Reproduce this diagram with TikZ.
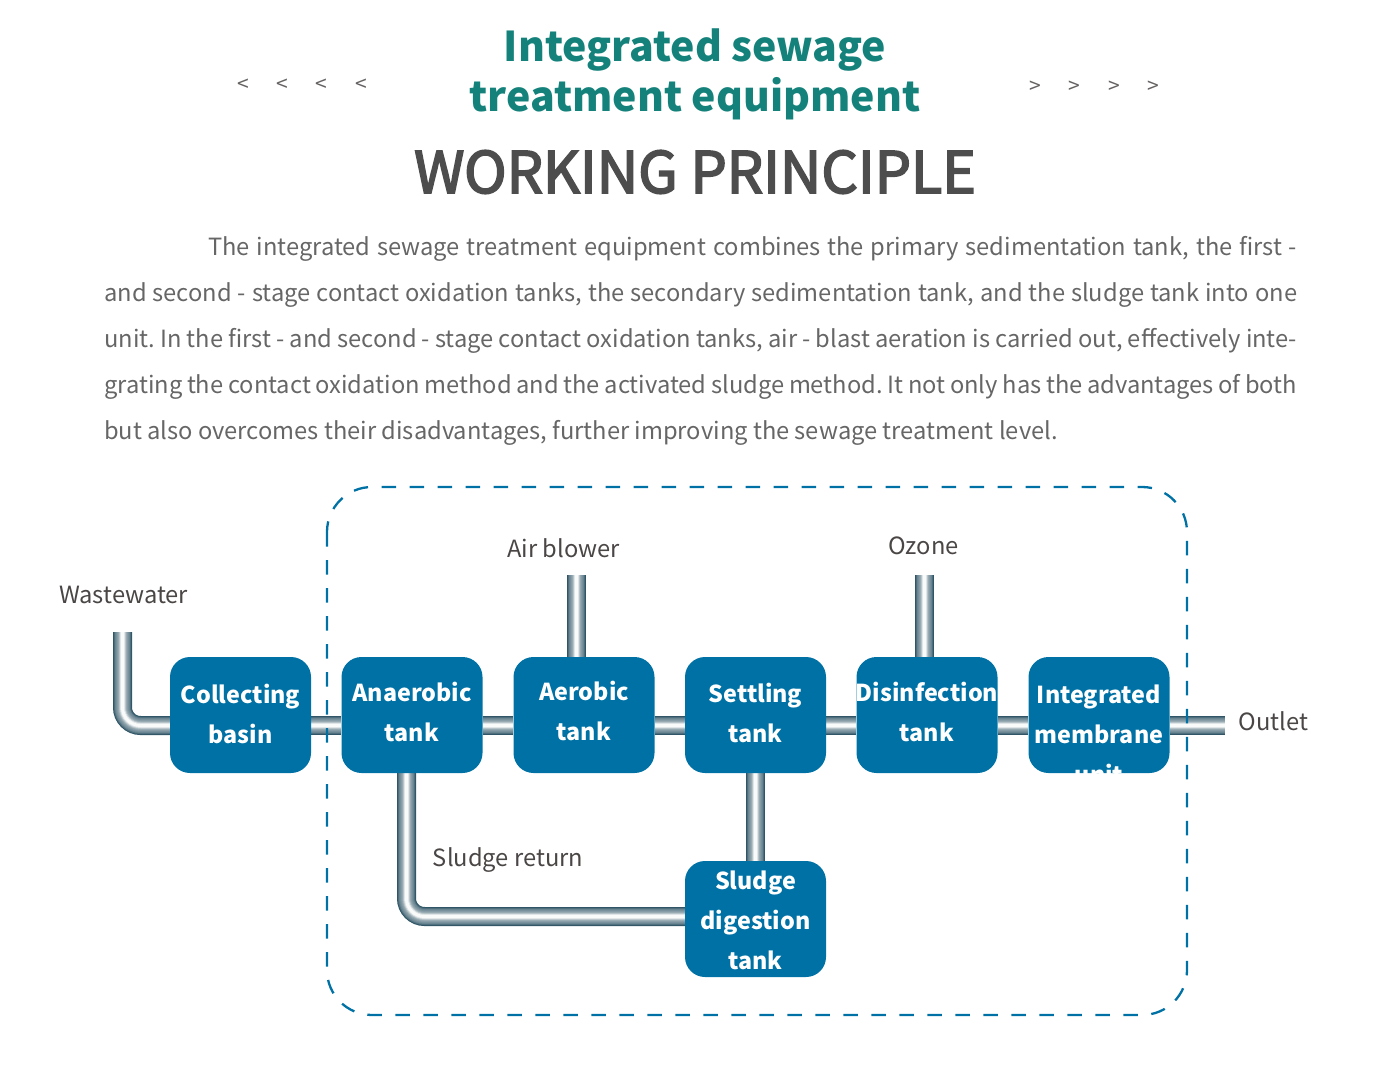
\documentclass[tikz,border=0pt]{standalone}
\usepackage{fontspec}
\setmainfont{Noto Sans CJK SC}
\newfontface\headface[FakeBold=3]{Noto Sans CJK SC}
\usetikzlibrary{backgrounds}
\pgfdeclarelayer{pipes}
\pgfsetlayers{pipes,main}
\definecolor{tankblue}{HTML}{0071A4}
\definecolor{titleteal}{HTML}{14827A}
\definecolor{headgrey}{HTML}{4D4D4D}
\definecolor{paragrey}{HTML}{666666}
\definecolor{labelgrey}{HTML}{4A4645}
\definecolor{pipedark}{HTML}{2F5566}
\tikzset{
  x=1pt,y=-1pt,
  tankbox/.style={draw=none,fill=tankblue,rounded corners=20pt,minimum width=141pt,minimum height=116pt,inner sep=0pt},
  tanktext/.style={text=white,font=\fontsize{23.3}{40}\selectfont\bfseries,align=center,inner sep=0pt},
  flowlabel/.style={text=labelgrey,font=\fontsize{23.7}{30}\selectfont,inner sep=0pt},
  chev/.style={text=labelgrey!85,font=\fontsize{21}{24}\selectfont,inner sep=0pt},
  boundary/.style={draw=tankblue,line width=2.3pt,dash pattern=on 14.5pt off 13.5pt,rounded corners=45pt},
}
\newcommand{\tankbox}[5]{%
  \node[tankbox,path picture={\node[tanktext] at ([yshift=#5]path picture bounding box.center) {#4};}] (#1) at (#2,#3) {};}
\newcommand{\pipeway}[1]{%
  \begin{pgfonlayer}{pipes}
  \foreach \w/\p in {19/0,17/15,15/28,13/35,11/42,9/50,7/65,5/85,3/97}{\draw[line width=\w pt,line cap=butt,draw=white!\p!pipedark] #1;}
  \end{pgfonlayer}}
\begin{document}
\begin{tikzpicture}
\useasboundingbox (0,0) rectangle (1400,1065);
\node[text=titleteal,font=\fontsize{41}{50}\selectfont\bfseries,align=center,inner sep=0pt] (title) at (695,74) {Integrated sewage\\treatment equipment};
\node[text=headgrey,font=\fontsize{57.3}{64}\headface,inner sep=0pt] (head) at (695,172) {WORKING PRINCIPLE};
\foreach \n/\x in {l1/243,l2/282,l3/321,l4/361}{\node[chev] (\n) at (\x,85) {<};}
\foreach \n/\x in {r1/1035,r2/1074,r3/1114,r4/1153}{\node[chev] (\n) at (\x,87) {>};}
\node[text=paragrey,font=\frenchspacing\fontsize{23.7}{46}\selectfont,anchor=north west,align=left,inner sep=0pt] (para) at (104,236) {%
\hspace*{104pt}\makebox[1089pt][s]{The integrated sewage treatment equipment combines the primary sedimentation tank, the first -}\\
\makebox[1193pt][s]{and second - stage contact oxidation tanks, the secondary sedimentation tank, and the sludge tank into one}\\
\makebox[1193pt][s]{unit. In the first - and second - stage contact oxidation tanks, air - blast aeration is carried out, effectively inte-}\\
\makebox[1193pt][s]{grating the contact oxidation method and the activated sludge method. It not only has the advantages of both}\\
but also overcomes their disadvantages, further improving the sewage treatment level.};

\tankbox{cb}{240.5}{715}{Collecting\\basin}{1pt}
\tankbox{an}{412}{715}{Anaerobic\\tank}{3pt}
\tankbox{ae}{584}{715}{Aerobic\\tank}{4pt}
\tankbox{st}{755.5}{715}{Settling\\tank}{2.5pt}
\tankbox{di}{927}{715}{Disinfection\\tank}{3pt}
\tankbox{im}{1099}{715}{Integrated\\membrane\\unit}{-19pt}
\tankbox{sd}{755.5}{919}{Sludge\\digestion\\tank}{-1pt}

\node[flowlabel] (ww) at (123.5,595) {Wastewater};
\node[flowlabel] (air) at (563.5,548) {Air blower};
\node[flowlabel] (oz) at (923.5,546) {Ozone};
\node[flowlabel] (ret) at (508,860) {Sludge return};
\node[flowlabel] (out) at (1273.5,721) {Outlet};

\coordinate (wwtop) at (122.5,632);
\coordinate (airtop) at (576.5,575);
\coordinate (oztop) at (924.5,575);
\coordinate (outend) at (1225,725.5);
\coordinate (retdown) at (406.5,773);
\coordinate (retin) at (685,916.5);

\pipeway{[rounded corners=18pt] (wwtop) -- (wwtop |- outend) -- (cb.west |- outend)}
\pipeway{(cb.east |- outend) -- (an.west |- outend)}
\pipeway{(an.east |- outend) -- (ae.west |- outend)}
\pipeway{(ae.east |- outend) -- (st.west |- outend)}
\pipeway{(st.east |- outend) -- (di.west |- outend)}
\pipeway{(di.east |- outend) -- (im.west |- outend)}
\pipeway{(im.east |- outend) -- (outend)}
\pipeway{(airtop) -- (airtop |- ae.north)}
\pipeway{(oztop) -- (oztop |- di.north)}
\pipeway{(st.south) -- (sd.north)}
\pipeway{[rounded corners=18pt] (retdown) -- (retdown |- retin) -- (retin)}

\draw[boundary] (327,487) rectangle (1187,1015);
\end{tikzpicture}
\end{document}
